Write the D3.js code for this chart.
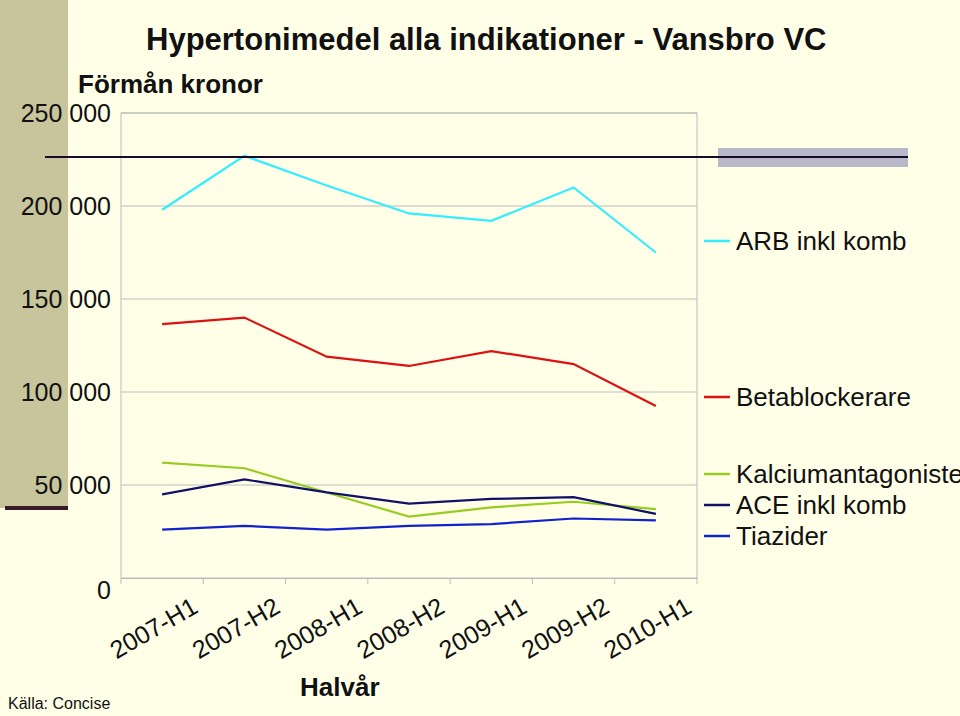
<!DOCTYPE html>
<html>
<head>
<meta charset="utf-8">
<script src="https://cdn.jsdelivr.net/npm/d3@7"></script>
<style>
body { margin: 0; background: #ffffe8; }
text { font-family: "Liberation Sans", Arial, sans-serif; }
</style>
</head>
<body>
<div id="chart"></div>
<script>
var categories = ["2007-H1", "2007-H2", "2008-H1", "2008-H2", "2009-H1", "2009-H2", "2010-H1"];
var arb = [198000, 227000, 211000, 196000, 192000, 210000, 175000];
var beta = [136500, 140000, 119000, 114000, 122000, 115000, 92500];
var kalc = [62000, 59000, 46000, 33000, 38000, 41000, 37000];
var ace = [45000, 53000, 46000, 40000, 42500, 43500, 34500];
var tiaz = [26000, 28000, 26000, 28000, 29000, 32000, 31000];
var yTicks = [0, 50000, 100000, 150000, 200000, 250000];

var series = [
  { name: "ARB inkl komb", values: arb, color: "#33eeff", ly: 241 },
  { name: "Betablockerare", values: beta, color: "#dd1111", ly: 397 },
  { name: "Kalciumantagonister", values: kalc, color: "#99cc22", ly: 474 },
  { name: "ACE inkl komb", values: ace, color: "#111166", ly: 505 },
  { name: "Tiazider", values: tiaz, color: "#1122cc", ly: 536 }
];

var svg = d3.select("#chart").append("svg")
  .attr("width", 960).attr("height", 716);

svg.append("rect").attr("width", 960).attr("height", 716).style("fill", "#ffffe8");
// decorations
svg.append("rect").attr("x", 0).attr("y", 0).attr("width", 68).attr("height", 508).style("fill", "#c8c49c");
svg.append("rect").attr("x", 5).attr("y", 506).attr("width", 63).attr("height", 4).style("fill", "#3a1a2a");
svg.append("rect").attr("x", 718).attr("y", 148).attr("width", 190).attr("height", 19).style("fill", "#b8b8c8");

var x = d3.scaleBand().domain(categories).range([121, 697]);
var y = d3.scaleLinear().domain([0, 250000]).range([578, 113]);

var g = svg.append("g");
g.append("rect").attr("x", 121).attr("y", 113).attr("width", 576).attr("height", 465)
  .style("fill", "none").style("stroke", "#bbbbbb");
g.selectAll(".grid").data(yTicks.slice(1)).enter().append("line")
  .attr("x1", 121).attr("x2", 697)
  .attr("y1", function(d) { return y(d); }).attr("y2", function(d) { return y(d); })
  .style("stroke", "#bbbbbb");

var yAxis = svg.append("g").attr("transform", "translate(121,0)")
  .call(d3.axisLeft(y).tickValues(yTicks).tickSize(0).tickPadding(10)
    .tickFormat(function(d) { return d3.format(",")(d).replace(/,/g, " "); }));
yAxis.select(".domain").remove();
yAxis.selectAll("text").style("font-size", "25px").style("fill", "#111");
yAxis.selectAll(".tick").filter(function(d) { return d === 0; }).select("text").attr("dy", "0.8em");

var xAxis = svg.append("g").attr("transform", "translate(0,578)")
  .call(d3.axisBottom(x).tickSize(0));
xAxis.select(".domain").style("stroke", "#bbbbbb");
xAxis.selectAll("text")
  .style("font-size", "25px").style("fill", "#111").style("text-anchor", "end")
  .attr("transform", "translate(33,26) rotate(-30)")
  .attr("x", 0).attr("y", 0).attr("dy", "0.35em");
xAxis.selectAll(".sep").data(categories.concat(["end"])).enter().append("line")
  .attr("x1", function(d, i) { return 121 + i * x.bandwidth(); })
  .attr("x2", function(d, i) { return 121 + i * x.bandwidth(); })
  .attr("y1", 0).attr("y2", 6).style("stroke", "#bbbbbb");

var line = d3.line()
  .x(function(d, i) { return x(categories[i]) + x.bandwidth() / 2; })
  .y(function(d) { return y(d); });

series.forEach(function(s) {
  svg.append("path").attr("d", line(s.values))
    .style("fill", "none").style("stroke", s.color).style("stroke-width", 2.2);
  svg.append("line").attr("x1", 704).attr("x2", 730).attr("y1", s.ly).attr("y2", s.ly)
    .style("stroke", s.color).style("stroke-width", 2.5);
  svg.append("text").attr("x", 736).attr("y", s.ly + 9).text(s.name)
    .style("font-size", "26px").style("fill", "#111");
});

svg.append("line").attr("x1", 45).attr("x2", 908).attr("y1", 157).attr("y2", 157)
  .style("stroke", "#1a0a2a").style("stroke-width", 2);

svg.append("text").attr("x", 146).attr("y", 50).text("Hypertonimedel alla indikationer - Vansbro VC")
  .style("font-size", "31px").style("font-weight", "bold").style("fill", "#111");
svg.append("text").attr("x", 78).attr("y", 93).text("Förmån kronor")
  .style("font-size", "26px").style("font-weight", "bold").style("fill", "#111");
svg.append("text").attr("x", 300).attr("y", 696).text("Halvår")
  .style("font-size", "26px").style("font-weight", "bold").style("fill", "#111");
svg.append("text").attr("x", 8).attr("y", 709).text("Källa: Concise")
  .style("font-size", "16px").style("fill", "#111");
</script>
</body>
</html>
